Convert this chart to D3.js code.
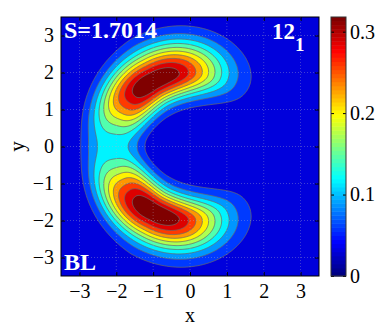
<!DOCTYPE html>
<html>
<head>
<meta charset="utf-8">
<script src="https://cdn.jsdelivr.net/npm/d3@7"></script>
<style>
  body { margin: 0; background: #fff; }
</style>
</head>
<body>
<div id="chart"></div>
<script>
// 軸與刻度
var xTicks = [-3, -2, -1, 0, 1, 2, 3];
var yTicks = [-3, -2, -1, 0, 1, 2, 3];
var cbTicks = [0, 0.1, 0.2, 0.3];
var axisRange = [-3.5, 3.5];
var cMax = 0.318;
// 等高線 (10 levels)
var levels = [0.0289, 0.0578, 0.0867, 0.1156, 0.1445, 0.1735, 0.2024, 0.2313, 0.2602, 0.2891];
// 兩個峰 (角度, 度) 與環的參數
var lobeAngles = [119, -119];
var lobePeak = [0.318, 0.318];
var angWidth = [0.7, 0.63];     // rad: 往右 / 往左
var angPower = 2.5;
// 峰上 / 左側 (180度) 的徑向參數
var ringRadius = [2.0, 2.1];
var sigmaIn = [0.46, 0.65];
var sigmaOut = [0.6, 0.64];
var radPower = [2.0, 3.0];
// 文字
var labelS = 'S=1.7014';
var labelState = ['12', '1'];
var labelCorner = 'BL';

const W = 382, H = 327;
const plot = {left: 61, right: 319, top: 17, bottom: 276};
const cb = {left: 331, right: 346};
const serif = 'Liberation Serif';

var svg = d3.select('#chart').append('svg')
  .attr('width', W).attr('height', H);

var x = d3.scaleLinear().domain(axisRange).range([plot.left, plot.right]);
var y = d3.scaleLinear().domain(axisRange).range([plot.bottom, plot.top]);

function jet(t) {
  var c = v => Math.max(0, Math.min(1, v)) * 255;
  return d3.rgb(c(1.5 - Math.abs(4 * t - 3)), c(1.5 - Math.abs(4 * t - 2)), c(1.5 - Math.abs(4 * t - 1))).toString();
}

// 密度
function density(px, py) {
  var r = Math.hypot(px, py);
  var th = Math.atan2(py, px);
  var a0 = lobeAngles[0] * Math.PI / 180;
  var u = Math.max(0, Math.min(1, (Math.abs(th) - a0) / (Math.PI - a0)));
  var R = ringRadius[0] + u * (ringRadius[1] - ringRadius[0]);
  var s = r < R ? sigmaIn[0] + u * (sigmaIn[1] - sigmaIn[0])
                : sigmaOut[0] + u * (sigmaOut[1] - sigmaOut[0]);
  var p = radPower[0] + u * (radPower[1] - radPower[0]);
  var radial = Math.exp(-0.5 * Math.pow(Math.abs(r - R) / s, p));
  var ang = 0;
  lobeAngles.forEach(function(a, i) {
    var d = th - a * Math.PI / 180;
    d = Math.atan2(Math.sin(d), Math.cos(d));
    // 朝向 x 軸正向 (|θ| 變小) 的一側較寬
    var outward = (a > 0) ? d < 0 : d > 0;
    var w = outward ? angWidth[0] : angWidth[1];
    ang += lobePeak[i] * Math.exp(-0.5 * Math.pow(Math.abs(d) / w, angPower));
  });
  return radial * ang;
}

var n = 300;
var step = (axisRange[1] - axisRange[0]) / n;
var values = new Array(n * n);
for (var j = 0; j < n; j++) {
  for (var i = 0; i < n; i++) {
    var px = axisRange[0] + (i + 0.5) * step;
    var py = axisRange[1] - (j + 0.5) * step;
    values[j * n + i] = density(px, py);
  }
}

var contours = d3.contours().size([n, n]).thresholds(levels)(values);
var gx = d3.scaleLinear().domain([0, n]).range([plot.left, plot.right]);
var gy = d3.scaleLinear().domain([0, n]).range([plot.top, plot.bottom]);
var path = d3.geoPath(d3.geoTransform({
  point: function(a, b) { this.stream.point(gx(a), gy(b)); }
}));

svg.append('clipPath').attr('id', 'clip')
  .append('rect')
  .attr('x', plot.left).attr('y', plot.top)
  .attr('width', plot.right - plot.left).attr('height', plot.bottom - plot.top);

var g = svg.append('g').attr('clip-path', 'url(#clip)');
// 背景
g.append('rect')
  .attr('x', plot.left).attr('y', plot.top)
  .attr('width', plot.right - plot.left).attr('height', plot.bottom - plot.top)
  .attr('fill', jet(levels[0] / cMax));

g.selectAll('path.band')
  .data(contours)
  .enter()
  .append('path')
  .attr('class', 'band')
  .attr('d', path)
  .attr('fill', (d, i) => jet((i + 1 < levels.length ? levels[i + 1] : cMax) / cMax))
  .attr('stroke', '#6a6a6a')
  .attr('stroke-width', 0.8);

// 格線
g.selectAll('line.gx')
  .data(xTicks)
  .enter()
  .append('line')
  .attr('x1', d => x(d)).attr('x2', d => x(d))
  .attr('y1', plot.top).attr('y2', plot.bottom)
  .attr('stroke', '#b0b0c8').attr('stroke-width', 0.6)
  .attr('stroke-dasharray', '1,2').attr('opacity', 0.6);
g.selectAll('line.gy')
  .data(yTicks)
  .enter()
  .append('line')
  .attr('y1', d => y(d)).attr('y2', d => y(d))
  .attr('x1', plot.left).attr('x2', plot.right)
  .attr('stroke', '#b0b0c8').attr('stroke-width', 0.6)
  .attr('stroke-dasharray', '1,2').attr('opacity', 0.6);

// 軸
var fmt = d => d < 0 ? '\u2212' + Math.abs(d) : String(d);
function styleAxis(sel) {
  sel.attr('font-family', null).attr('font-size', null);
  sel.select('.domain').remove();
  sel.selectAll('.tick line').attr('stroke', '#000');
  sel.selectAll('.tick text')
    .attr('font-family', serif).attr('font-size', 20).attr('fill', '#000');
}
svg.append('g')
  .attr('transform', `translate(0, ${plot.bottom})`)
  .call(d3.axisBottom(x).tickValues(xTicks).tickSize(-4).tickPadding(8).tickFormat(fmt))
  .call(styleAxis);
svg.append('g')
  .attr('transform', `translate(0, ${plot.top})`)
  .call(d3.axisTop(x).tickValues(xTicks).tickSize(-4).tickFormat(''))
  .call(styleAxis);
svg.append('g')
  .attr('transform', `translate(${plot.left}, 0)`)
  .call(d3.axisLeft(y).tickValues(yTicks).tickSize(-4).tickPadding(7).tickFormat(fmt))
  .call(styleAxis);
svg.append('g')
  .attr('transform', `translate(${plot.right}, 0)`)
  .call(d3.axisRight(y).tickValues(yTicks).tickSize(-4).tickFormat(''))
  .call(styleAxis);

svg.append('rect')
  .attr('x', plot.left).attr('y', plot.top)
  .attr('width', plot.right - plot.left).attr('height', plot.bottom - plot.top)
  .attr('fill', 'none').attr('stroke', '#000').attr('stroke-width', 1);

svg.append('text')
  .attr('x', (plot.left + plot.right) / 2).attr('y', 322)
  .attr('text-anchor', 'middle').attr('font-size', 20).attr('font-family', serif)
  .text('x');
svg.append('text')
  .attr('transform', `translate(24, ${(plot.top + plot.bottom) / 2}) rotate(-90)`)
  .attr('text-anchor', 'middle').attr('font-size', 21).attr('font-family', serif)
  .text('y');

// 標註
svg.append('text')
  .attr('x', 64).attr('y', 38)
  .attr('font-size', 24).attr('font-weight', 'bold').attr('fill', '#fff').attr('font-family', serif)
  .text(labelS);
var st = svg.append('text')
  .attr('x', 272).attr('y', 39)
  .attr('font-size', 23).attr('font-weight', 'bold').attr('fill', '#fff').attr('font-family', serif);
st.append('tspan').text(labelState[0]);
st.append('tspan').attr('dy', 12).attr('font-size', 19).text(labelState[1]);
svg.append('text')
  .attr('x', 64).attr('y', 270)
  .attr('font-size', 24).attr('font-weight', 'bold').attr('fill', '#fff').attr('font-family', serif)
  .text(labelCorner);

// 色條
var cy = d3.scaleLinear().domain([0, cMax]).range([plot.bottom, plot.top]);
var nColors = 64;
svg.append('g').selectAll('rect')
  .data(d3.range(nColors))
  .enter()
  .append('rect')
  .attr('x', cb.left)
  .attr('width', cb.right - cb.left)
  .attr('y', d => cy((d + 1) * cMax / nColors))
  .attr('height', d => cy(d * cMax / nColors) - cy((d + 1) * cMax / nColors) + 0.5)
  .attr('fill', d => jet(d / (nColors - 1)));
svg.append('g')
  .attr('transform', `translate(${cb.right}, 0)`)
  .call(d3.axisRight(cy).tickValues(cbTicks).tickSize(-3).tickPadding(4).tickFormat(d => d === 0 ? '0' : d3.format('.1f')(d)))
  .call(styleAxis);
svg.append('g')
  .attr('transform', `translate(${cb.left}, 0)`)
  .call(d3.axisLeft(cy).tickValues(cbTicks).tickSize(-3).tickFormat(''))
  .call(styleAxis);
svg.append('rect')
  .attr('x', cb.left).attr('y', plot.top)
  .attr('width', cb.right - cb.left).attr('height', plot.bottom - plot.top)
  .attr('fill', 'none').attr('stroke', '#333').attr('stroke-width', 1);
</script>
</body>
</html>
